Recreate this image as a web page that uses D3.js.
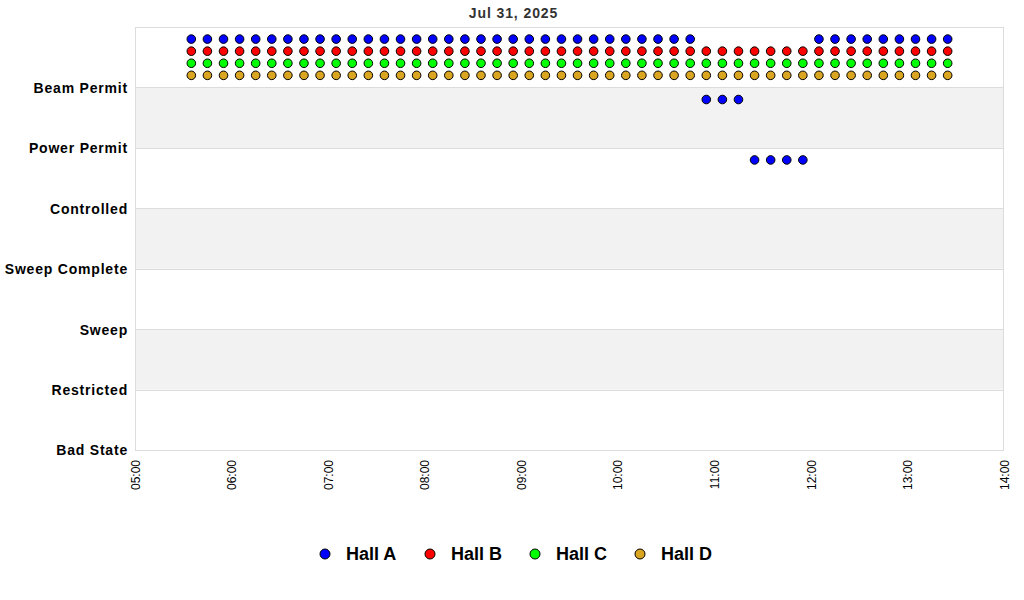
<!DOCTYPE html>
<html><head><meta charset="utf-8">
<script src="https://cdn.jsdelivr.net/npm/d3@7"></script>
<style>body{margin:0;background:#fff;}svg{display:block;font-family:"Liberation Sans",Arial,sans-serif;}</style>
</head><body><svg id="c" width="1024" height="600"></svg>
<script>
const title = "Jul 31, 2025";
const stateLabels = ["Bad State","Restricted","Sweep","Sweep Complete","Controlled","Power Permit","Beam Permit",""];
const halls = ["Hall A","Hall B","Hall C","Hall D"];
const hallColors = ["#0000ff","#ff0000","#00ff00","#daa520"];
const hallOffsets = [-0.2,-0.4,-0.6,-0.8];
const xTicks = ["05:00","06:00","07:00","08:00","09:00","10:00","11:00","12:00","13:00","14:00"];
const times = ["05:35","05:45","05:55","06:05","06:15","06:25","06:35","06:45","06:55","07:05","07:15","07:25",
  "07:35","07:45","07:55","08:05","08:15","08:25","08:35","08:45","08:55","09:05","09:15","09:25",
  "09:35","09:45","09:55","10:05","10:15","10:25","10:35","10:45","10:55","11:05","11:15","11:25",
  "11:35","11:45","11:55","12:05","12:15","12:25","12:35","12:45","12:55","13:05","13:15","13:25"];
const hallA = [7,7,7,7,7,7,7,7,7,7,7,7,7,7,7,7,7,7,7,7,7,7,7,7,7,7,7,7,7,7,7,7,6,6,6,5,5,5,5,7,7,7,7,7,7,7,7,7];
const hallB = [7,7,7,7,7,7,7,7,7,7,7,7,7,7,7,7,7,7,7,7,7,7,7,7,7,7,7,7,7,7,7,7,7,7,7,7,7,7,7,7,7,7,7,7,7,7,7,7];
const hallC = [7,7,7,7,7,7,7,7,7,7,7,7,7,7,7,7,7,7,7,7,7,7,7,7,7,7,7,7,7,7,7,7,7,7,7,7,7,7,7,7,7,7,7,7,7,7,7,7];
const hallD = [7,7,7,7,7,7,7,7,7,7,7,7,7,7,7,7,7,7,7,7,7,7,7,7,7,7,7,7,7,7,7,7,7,7,7,7,7,7,7,7,7,7,7,7,7,7,7,7];
const series = [hallA,hallB,hallC,hallD];

const svg = d3.select("#c");
const m = {l:135, r:1004, t:27, b:450};
const parse = d3.timeParse("%Y-%m-%d %H:%M");
const day = "2025-07-31 ";
const x = d3.scaleTime().domain([parse(day+xTicks[0]), parse(day+xTicks[xTicks.length-1])]).range([m.l, m.r]);
const y = d3.scaleLinear().domain([0, stateLabels.length-1]).range([m.b, m.t]);

// bands
const g = svg.append("g");
d3.range(stateLabels.length-1).forEach(i=>{
  g.append("rect").attr("x",m.l).attr("width",m.r-m.l)
    .attr("y",y(i+1)).attr("height",y(i)-y(i+1))
    .attr("fill", (i%2===1)?"#f2f2f2":"#ffffff");
});
// grid lines
d3.range(stateLabels.length).forEach(i=>{
  g.append("line").attr("x1",m.l).attr("x2",m.r).attr("y1",Math.round(y(i))+0.5).attr("y2",Math.round(y(i))+0.5)
   .attr("stroke","#dcdcdc");
});
g.append("rect").attr("x",m.l+0.5).attr("y",m.t+0.5).attr("width",m.r-m.l-1).attr("height",m.b-m.t)
  .attr("fill","none").attr("stroke","#dcdcdc");

// y labels
const ya = svg.append("g").attr("transform",`translate(${m.l},0)`)
  .call(d3.axisLeft(y).tickValues(d3.range(stateLabels.length)).tickFormat(i=>stateLabels[i]).tickSize(0).tickPadding(7));
ya.select(".domain").remove();
ya.selectAll("text").attr("font-size",14).attr("font-weight","bold").attr("fill","#000")
  .attr("letter-spacing","0.8px")
  .attr("font-family","Liberation Sans, Arial, sans-serif").attr("dy","0.35em");

// x labels
const xa = svg.append("g").attr("transform",`translate(0,${m.b})`)
  .call(d3.axisBottom(x).tickValues(xTicks.map(t=>parse(day+t))).tickFormat(d3.timeFormat("%H:%M")).tickSize(0));
xa.select(".domain").remove();
xa.selectAll("text").attr("font-size",12).attr("fill","#000")
  .attr("font-family","Liberation Sans, Arial, sans-serif")
  .attr("text-anchor","end").attr("transform","rotate(-90)")
  .attr("x",-10).attr("y",0).attr("dy","0.35em");

// points
series.forEach((s,hi)=>{
  svg.append("g").selectAll("circle").data(s).join("circle")
    .attr("cx",(d,i)=>x(parse(day+times[i])))
    .attr("cy",d=>y(d+hallOffsets[hi]))
    .attr("r",4.3)
    .attr("fill",hallColors[hi]).attr("stroke","#000").attr("stroke-width",1);
});

// title
svg.append("text").attr("x",(m.l+m.r)/2 - 56).attr("y",18).attr("text-anchor","middle")
  .attr("font-size",14).attr("font-weight","bold").attr("fill","#333").attr("letter-spacing","0.9px").text(title);

// legend
const lg = svg.append("g");
halls.forEach((h,i)=>{
  const lx = 325 + i*105;
  lg.append("circle").attr("cx",lx).attr("cy",554).attr("r",5).attr("fill",hallColors[i]).attr("stroke","#000");
  lg.append("text").attr("x",lx+21).attr("y",560).attr("font-size",18).attr("font-weight","bold").attr("fill","#000").text(h);
});
</script></body></html>
